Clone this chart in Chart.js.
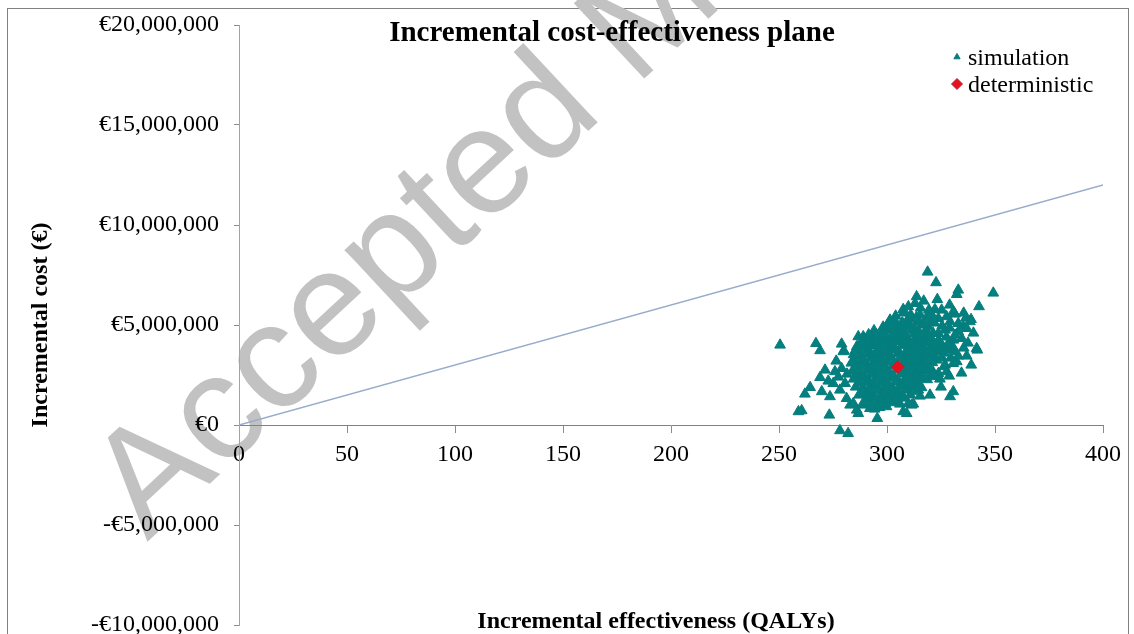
<!DOCTYPE html>
<html>
<head>
<meta charset="utf-8">
<title>Incremental cost-effectiveness plane</title>
<script src="https://cdn.jsdelivr.net/npm/chart.js@4.4.1/dist/chart.umd.min.js"></script>
<style>
  html, body { margin: 0; padding: 0; background: #fff; overflow: hidden; }
  #wrap { position: relative; width: 1134px; height: 634px; overflow: hidden; }
  #frame { position: absolute; left: 7px; top: 8px; width: 1120px; height: 700px; border: 1px solid #808080; }
  #stamp {
    position: absolute; left: 150px; top: 414px;
    font: 150px "Liberation Sans", Arial, sans-serif; line-height: 1;
    color: #c2c2c2; white-space: nowrap;
    transform-origin: 0 131px; transform: rotate(-43deg);
  }
  canvas { position: absolute; left: 0; top: 0; }
</style>
</head>
<body>
<div id="wrap">
  <div id="frame"></div>
  <div id="stamp">Accepted Manuscript</div>
  <canvas id="icer" width="1134" height="634"></canvas>
</div>
<script>
  /* ---------- DATA ---------- */

  const chartTitle = "Incremental cost-effectiveness plane";
  const xTitle = "Incremental effectiveness (QALYs)";
  const yTitle = "Incremental cost (€)";

  // willingness-to-pay line (€30,000 / QALY)
  const thresholdQaly = [0, 400];
  const thresholdCost = [0, 12000000];

  // base case
  const deterministicQaly = [305];
  const deterministicCostM = [2.9];

  // probabilistic simulation (QALYs, cost in € millions)
  const simQaly = [
    318.8, 322.7, 333.0, 332.3, 349.2, 313.7, 323.3, 342.6, 307.5, 309.9,
    250.5, 267.1, 269.0, 279.0, 280.0, 286.7, 289.0, 341.8, 336.9, 271.3,
    269.0, 264.4, 262.0, 269.8, 273.6, 259.0, 260.5, 273.3, 278.2, 282.0,
    295.5, 307.5, 312.2, 319.9, 329.2, 330.7, 315.3, 326.4, 330.7, 323.8,
    321.1, 278.2, 282.9, 286.7, 299.8, 309.9, 279.8, 286.0, 275.9, 279.0,
    275.1, 281.3, 284.4, 286.0, 280.6, 292.1, 289.0, 302.9, 305.2, 277.5,
    272.8, 276.5, 281.5, 331.5, 332.3, 328.4, 324.5, 326.9, 327.6, 323.0,
    320.7, 314.5, 311.4, 309.1, 320.0, 322.3, 313.0, 319.4, 322.2, 325.3,
    330.7, 331.5, 338.9, 338.4, 315.3, 314.5, 323.8, 320.7, 327.6, 329.2,
    333.0, 335.3, 336.9, 333.0, 334.6, 326.9, 323.8, 317.6, 319.1, 316.1,
    330.7, 328.4, 341.5, 323.8, 326.1, 309.9, 310.6, 301.4, 302.9, 306.8,
    299.8, 295.2, 292.9, 299.8, 304.5, 306.0, 287.5,
    335.5, 340.0, 337.5, 329.0, 317.0, 339.0, 334.5, 325.0, 294.3,
    318.5, 322.0, 325.5, 329.0, 331.5, 327.5, 324.5, 330.5, 335.5, 333.0,
    329.5, 325.5, 326.5, 322.0, 315.5, 320.5, 336.5, 324.5, 328.8,
    304.0, 307.5, 311.0, 313.6,
    300.5, 303.8, 307.2, 310.5, 314.0, 317.6,
    294.0, 297.5, 301.0, 304.3, 307.8, 311.2, 314.6, 318.0, 321.3,
    289.5, 293.0, 296.4, 299.8, 303.2, 306.6, 310.0, 313.5, 317.0, 320.4, 323.8,
    286.5, 290.0, 293.4, 296.8, 300.2, 303.6, 307.0, 310.4, 313.8, 317.2, 320.6, 324.0,
    284.5, 288.0, 291.4, 294.8, 298.2, 301.6, 305.0, 308.4, 311.8, 315.2, 318.6, 322.0,
    283.5, 287.0, 290.4, 293.8, 297.2, 300.6, 304.0, 307.4, 310.8, 314.2, 317.6, 321.0,
    284.0, 287.4, 290.8, 294.2, 297.6, 301.0, 304.4, 307.8, 311.2, 314.6, 318.0, 321.4,
    284.5, 288.0, 291.4, 294.8, 298.2, 301.6, 305.0, 308.4, 311.8, 315.2, 318.6,
    285.5, 289.0, 292.4, 295.8, 299.2, 302.6, 306.0, 309.4, 312.8, 316.0,
    287.0, 290.4, 293.8, 297.2, 300.6, 304.0, 307.4, 310.8,
    289.0, 292.4, 295.8, 299.2, 302.6, 306.0,
    298.2, 302.0, 305.5, 309.0, 312.4,
    291.5, 295.0, 298.6, 302.0, 305.4, 308.8, 312.2, 315.6, 319.0,
    288.0, 291.4, 294.8, 298.2, 301.6, 305.0, 308.4, 311.8, 315.2, 318.6, 322.0,
    285.2, 288.6, 292.0, 295.4, 298.8, 302.2, 305.6, 309.0, 312.4, 315.8, 319.2,
    285.6, 289.0, 292.4, 295.8, 299.2, 302.6, 306.0, 309.4, 312.8, 316.2, 319.6,
    285.6, 289.0, 292.4, 295.8, 299.2, 302.6, 306.0, 309.4, 312.8, 316.2, 319.6,
    286.0, 289.4, 292.8, 296.2, 299.6, 303.0, 306.4, 309.8, 313.2, 316.6,
    287.0, 290.4, 293.8, 297.2, 300.6, 304.0, 307.4, 310.8, 314.2,
    288.6, 292.0, 295.4, 298.8, 302.2, 305.6, 309.0, 312.4,
    290.6, 294.0, 297.4, 300.8, 304.2, 307.6,
    293.0, 296.5
  ];
  const simCostM = [
    7.65, 7.12, 6.75, 6.53, 6.60, 6.42, 6.28, 5.92, 5.78, 5.92,
    4.00, 4.08, 3.72, 4.05, 3.72, 4.42, 4.42, 3.75, 3.45, 2.75,
    2.38, 1.88, 1.55, 1.67, 1.42, 0.67, 0.72, 0.50, -0.28, -0.42,
    0.33, 0.67, 1.05, 1.50, 1.42, 1.67, 1.45, 2.92, 3.08, 2.58,
    2.42, 1.75, 1.00, 0.58, 0.92, 1.08, 3.67, 3.92, 2.67, 2.83,
    2.08, 1.33, 1.08, 0.75, 2.08, 0.83, 1.00, 1.25, 1.50, 2.40,
    2.20, 3.20, 2.55, 3.67, 3.17, 3.75, 3.67, 3.00, 2.67, 3.25,
    2.50, 1.75, 1.00, 0.58, 3.58, 3.40, 6.08, 5.75, 5.78, 5.75,
    5.67, 5.55, 5.28, 5.17, 5.50, 5.17, 5.33, 5.25, 5.42, 5.17,
    5.08, 4.92, 4.83, 4.67, 4.33, 4.75, 4.58, 4.58, 4.92, 5.00,
    4.25, 4.08, 3.83, 4.00, 3.88, 5.33, 4.92, 5.25, 5.08, 5.08,
    4.75, 4.50, 4.08, 4.17, 4.25, 4.67, 3.92,
    5.60, 4.60, 4.10, 6.00, 6.20, 3.00, 2.60, 1.90, 0.80,
    5.40, 5.10, 4.95, 4.85, 4.50, 4.40, 4.15, 3.90, 3.85, 3.45,
    3.35, 3.35, 3.60, 3.75, 5.85, 5.55, 5.35, 2.30, 2.45,
    5.45, 5.60, 5.50, 5.38,
    5.05, 5.18, 5.10, 5.02, 5.15, 5.08,
    4.72, 4.65, 4.78, 4.70, 4.62, 4.75, 4.68, 4.74, 4.60,
    4.30, 4.36, 4.25, 4.32, 4.28, 4.38, 4.22, 4.34, 4.27, 4.31, 4.24,
    3.92, 3.86, 3.95, 3.88, 3.90, 3.84, 3.97, 3.89, 3.93, 3.86, 3.91, 3.85,
    3.52, 3.46, 3.55, 3.48, 3.50, 3.44, 3.57, 3.49, 3.53, 3.47, 3.51, 3.45,
    3.10, 3.14, 3.06, 3.12, 3.08, 3.15, 3.05, 3.11, 3.09, 3.13, 3.07, 3.12,
    2.70, 2.66, 2.74, 2.68, 2.72, 2.65, 2.75, 2.69, 2.71, 2.67, 2.73, 2.64,
    2.30, 2.34, 2.26, 2.32, 2.28, 2.35, 2.25, 2.31, 2.29, 2.33, 2.27,
    1.90, 1.86, 1.94, 1.88, 1.92, 1.85, 1.95, 1.89, 1.91, 1.87,
    1.50, 1.54, 1.46, 1.52, 1.48, 1.55, 1.45, 1.51,
    1.10, 1.06, 1.14, 1.08, 1.12, 1.05,
    4.90, 4.95, 4.86, 4.93, 4.88,
    4.52, 4.46, 4.55, 4.48, 4.53, 4.45, 4.56, 4.49, 4.44,
    4.10, 4.14, 4.06, 4.12, 4.08, 4.15, 4.05, 4.11, 4.09, 4.13, 4.07,
    3.70, 3.74, 3.66, 3.72, 3.68, 3.75, 3.65, 3.71, 3.69, 3.73, 3.67,
    3.30, 3.26, 3.34, 3.28, 3.32, 3.25, 3.35, 3.29, 3.31, 3.27, 3.33,
    2.90, 2.94, 2.86, 2.92, 2.88, 2.95, 2.85, 2.91, 2.89, 2.93, 2.87,
    2.50, 2.46, 2.54, 2.48, 2.52, 2.45, 2.55, 2.49, 2.51, 2.47,
    2.10, 2.14, 2.06, 2.12, 2.08, 2.15, 2.05, 2.11, 2.09,
    1.70, 1.66, 1.74, 1.68, 1.72, 1.65, 1.75, 1.69,
    1.30, 1.34, 1.26, 1.32, 1.28, 1.35,
    0.95, 0.88
  ];

  /* ---------- BUILD POINTS ---------- */

  const simPoints = simQaly.map((q, i) => ({ x: q, y: simCostM[i] * 1e6 }));
  const detPoints = deterministicQaly.map((q, i) => ({ x: q, y: deterministicCostM[i] * 1e6 }));
  const linePoints = thresholdQaly.map((q, i) => ({ x: q, y: thresholdCost[i] }));

  const serif = '"Liberation Serif", "Times New Roman", serif';
  Chart.defaults.font.family = serif;
  Chart.defaults.color = '#000';

  const euro = v => (v < 0 ? '-€' : '€') + Math.abs(v).toLocaleString('en-US');

  /* ---------- TITLE, AXIS LABEL AND LEGEND INSIDE THE PLOT ---------- */

  const overlay = {
    id: 'overlay',
    afterDraw(chart) {
      const c = chart.ctx;
      c.save();
      c.fillStyle = '#000';
      c.textBaseline = 'alphabetic';
      c.textAlign = 'center';
      c.font = 'bold 29px ' + serif;
      c.fillText(chartTitle, 612, 41);
      c.font = 'bold 24px ' + serif;
      c.fillText(xTitle, 656, 628);

      // legend, simulation first
      const entries = [
        { ds: chart.data.datasets[1], r: 3.6, y: 57 },
        { ds: chart.data.datasets[0], r: 5.5, y: 84 }
      ];
      c.font = '24px ' + serif;
      c.textAlign = 'left';
      entries.forEach(e => {
        c.fillStyle = e.ds.backgroundColor;
        c.strokeStyle = e.ds.borderColor;
        c.lineWidth = 1;
        Chart.helpers.drawPoint(c, { pointStyle: e.ds.pointStyle, radius: e.r, rotation: 0, borderWidth: 1 }, 957, e.y);
        c.fillStyle = '#000';
        c.fillText(e.ds.label, 968, e.y + 8);
      });
      c.restore();
    }
  };

  /* ---------- CHART ---------- */

  new Chart(document.getElementById('icer'), {
    type: 'scatter',
    data: {
      datasets: [
        {
          label: 'deterministic',
          data: detPoints,
          pointStyle: 'rectRot',
          pointRadius: 6.5,
          backgroundColor: '#e5121d',
          borderColor: '#b8203a',
          borderWidth: 1,
          order: 0
        },
        {
          label: 'simulation',
          data: simPoints,
          pointStyle: 'triangle',
          pointRadius: 6.2,
          backgroundColor: '#008080',
          borderColor: '#0a7c7a',
          borderWidth: 1,
          order: 1
        },
        {
          label: 'threshold',
          data: linePoints,
          showLine: true,
          borderColor: '#9aaccb',
          borderWidth: 1.3,
          pointRadius: 0,
          order: 2
        }
      ]
    },
    options: {
      responsive: false,
      animation: false,
      layout: { padding: { left: 8, top: 25, right: 31, bottom: 9 } },
      plugins: {
        legend: { display: false },
        title: { display: false },
        tooltip: { enabled: false }
      },
      scales: {
        x: {
          type: 'linear',
          position: { y: 0 },
          min: 0,
          max: 400,
          ticks: { stepSize: 50, padding: 8, font: { size: 24 }, maxRotation: 0, autoSkip: false },
          grid: { drawOnChartArea: false, tickLength: 7, color: '#8c8c8c' },
          border: { color: '#7d8290', width: 1 }
        },
        y: {
          type: 'linear',
          position: 'left',
          min: -10000000,
          max: 20000000,
          ticks: { stepSize: 5000000, padding: 15, font: { size: 24 }, callback: euro },
          grid: { drawOnChartArea: false, tickLength: 5, color: '#8c8c8c' },
          border: { color: '#a3a3a3', width: 1 },
          title: {
            display: true,
            text: yTitle,
            font: { size: 24, weight: 'bold' },
            padding: { top: 18, bottom: 0 }
          },
          afterFit: s => { s.width = 231; s.paddingTop = 0; s.paddingBottom = 0; }
        }
      }
    },
    plugins: [overlay]
  });
</script>
</body>
</html>
